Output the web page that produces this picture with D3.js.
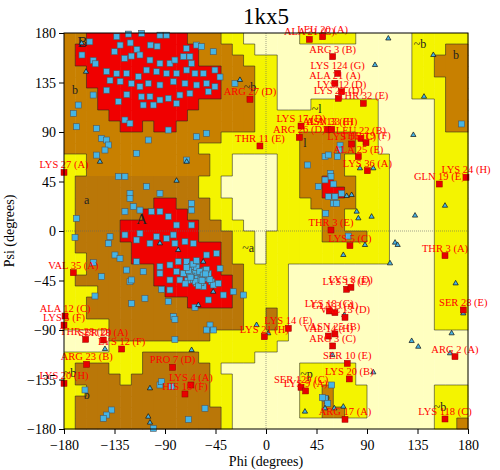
<!DOCTYPE html>
<html>
<head>
<meta charset="utf-8">
<script src="https://cdn.jsdelivr.net/npm/d3@7"></script>
<style>
body { margin: 0; background: #fff; }
text { font-family: "Liberation Serif", "DejaVu Serif", serif; }
</style>
</head>
<body>
<script>
// region map, 10 degree cells, rows psi 180 -> -180, columns phi -180 -> 180
// R core, B allowed, D allowed (darker), Y generous, W disallowed
var regionRows = [
  "BBRRRRRRRRRBBBYYWWWWWYYYYYWWWWWYYYYY",
  "BRRRRRRRRRRRBBBYYWWWWWWWWWWWWWWYYYBB",
  "BRRRRRRRRRRRBBBBYYYWWWWWWWWWWWWYYBBB",
  "BBRRRRRRRRRRRRBBBYYWWWWWWWWWWWWYYBBB",
  "BBRRRRRRRRRRRRBBBYYWWWWWWWWWWWWYYYBB",
  "BBBRRRRRRRRRRRBBBYYWWWWWWWWWWWWYYYBB",
  "BBBRRRRRRRRRBBBBBYYWWWYYYYYYWWWWWYBB",
  "BBBBRRRRRRRBBBBBBYYYYYYYYYYYWWWWWYBB",
  "BBBBBRRBRRBBBBBBBYYYYYYYYYYYWWWWWYBB",
  "BBBBBBBBBBBBBBYYYYYYYBBBBBYYWWWWWYYY",
  "BBBBBBBBBBBBYYYYYYYYYBBBBBYYWWWWWYYY",
  "YYBBBBBBBBBBBYYWWWWYYBBBBYYYYWWWWYYY",
  "YYBBBBBBBBBBBYYWWWWYYBBBBYYYYWWWWYYY",
  "YDDDDDDDDDDDYYWWWWWYYBBRBBYYYWWWWYYY",
  "YDDDDDDDDDDDYYWWWWWYYBBRRBYYYWWWWYYY",
  "YDDDDDDDRRDDDYYWWWWYYYBBBBYYYWWWWYYY",
  "YDDDDDDRRRRDDYYWWWWYYYYBBYYYYWWWWYYY",
  "YDDDDRRRRRRRDDYYWWWYYYYBBYYYYWWWWYYY",
  "YDDDDRRRRRRRDDDYYWYYYYYBBBBYYWWWWYYY",
  "YDDDDDRRRRRRRRDYYWYYYYYYYYYYYWWWWYYY",
  "YYDDDDRRRRRRRRDYYWYYYYYYYYYYYWWWWYYY",
  "YYDDDDDDRRRRRRDDYYYYWWWWWWWWWWWWWYYY",
  "YDDDDDDDRRRRRRRDYYYYWWWWWWWWWWWWWYYY",
  "YYYDDDDDDRRRRRRDYYYYWWWWWWWWWWWWWYYY",
  "YYDDDDDDDDDRRRRDYYYYWWWWWWWWWWWWWYYY",
  "YYDDDDDDDDDDDDDDYYDYWWWWWWWWWWWWWYYY",
  "YYYYDDDDDDDDDDDDYYDYWWWWWWWWWWWWWYYY",
  "WWWWDDDDDDDDDYYYYYYYWWWWWWWWWWWWWWWW",
  "WWWWYYYYYYYYYYYYYYYWWWWWWWWWWWWWWWWW",
  "YYYYYYYDDDDDYYYYYWWWWWWWWWWWWWWWWWWW",
  "YDDDYYYDDDDDDYWWWWWWWYYYYYWWWWWWWWWW",
  "YDDDDYDDDDDDDYYWWWWWWYYYYYWWWWWWWWWW",
  "YYDDDDDDDDDDDYYWWWWWWYYBYYYWWWWWWYYY",
  "YDDDDDDDDDDDDYYWWWWWWYYBYYYWWWWWWYYY",
  "YDDDDDDDDDDDDDYWWWWWWYYBBYYWWWWWWYYY",
  "YDDDDDDDDDDDDDYWWWWWWWWWWWWWWWWWWYYB"
];
var regionColors = { R: "#f00000", B: "#c88000", D: "#ba7708", Y: "#f4f400", W: "#ffffc0" };

// general residues (phi, psi)
var generalPhi = [-122.7,-110.8,-94.5,-88.6,-133,-157,-164,-154,-152,-130,-121,-115,-103,-97,-71,-62,-57.4,-47,-135,-126,-120,-112.3,-103.4,-94.5,-85.6,-81.2,-73.7,-67.8,-66.3,-142,-133,-124.2,-113.8,-106.4,-97.5,-88.6,-79.7,-70.7,-63.3,-55.9,-45.5,-41,-139,-130,-120,-112.3,-104.9,-94.5,-82.6,-72.2,-61.8,-52.9,-45.5,-27.7,-154,-142,-124,-111,-103.4,-94.5,-87.1,-76.7,-67.8,-51.4,-131.6,-109.4,-100.4,-79.7,-167.3,-171.7,-125.7,-121.2,-151,-168.8,-104.9,-87.1,-61.8,-53,-146.5,-142,-140.5,-143.5,-151,-115.3,-70.7,-131.6,-125.7,-106.4,-94.5,-121.2,-121.2,-118.3,-125.7,-112.3,-102,-94.5,-87.1,-66.3,-66.3,-168.8,-79.7,-66.3,
  -170.2,-139,-140.5,-125.7,-115.3,-112.3,-103.4,-97.5,-88.6,-82.6,-81.2,-72.2,-64.8,-134.6,-130.1,-153.9,-115.3,-94.5,-85.6,-78.2,-70.7,-61.8,-52.9,-44,-41,-79.7,-73.7,-69.2,-66.3,-64.8,-60.3,-57.4,-54.4,-51.4,-48.5,-47,-42.5,-55.9,-61.8,-67.8,-76.7,-85.6,-94.5,-109.4,-124.2,-121.2,-119.7,-146.5,-93,-85.6,-107.9,-119.7,-87.1,-152.4,-63.3,-51.4,-38,-20.2,-29.2,-82.6,-81.2,-49.9,-52.9,-46.9,-81.2,-94.5,-93,-84,-161.3,-137.6,-142,-145,-69.2,-54.4,-100.4,
  -60,-57,-64,-70,-62,-58,-66,-55,-50,-68,-72,-61,-53,-59,-63,-67,-56,-65,-60,-69,-58,-62,-54,-71,-57,
  66,66,52.6,55.5,63.8,37.1,57.3,57.9,52.6,60,46.6,55.5,61.5,60,63,67.4,53.2,174.3,73.3,58.5,52.6,50.2,55];
var generalPsi = [179,179.7,178,178,176.6,172,160,155,152,169,171,165,169,168,166,169,167.6,163,163,157,159,160,155.4,152.4,152.4,155.4,158.5,158.5,152.4,145,143,143.3,140.3,146.3,144.8,143.3,143.3,146.3,143.3,143.3,146.3,140,137,136,134,131.2,134.2,132.7,135.7,134.2,132.7,134.2,131.2,134.2,123.6,128,124,122,122.1,119.1,120.6,123.6,125.1,126.6,117.6,114.5,114.5,116,114.5,107,100.9,97.9,93.3,94.8,82.7,91.8,85.7,88.8,84.2,82.7,78.2,73.6,69,70.6,64.5,49.4,49.4,40.3,34.2,34.2,29.7,22.1,17.6,19,17.6,17.6,13,25.1,19,11.5,5.4,5.4,
  -5.8,-5.2,-11.2,-3.6,-8.2,-2.1,-11.2,-5.2,-6.7,-3.6,-11.2,-9.7,-11.2,-21.8,-24.9,-28.8,-27.9,-32.4,-30.9,-27.9,-27.9,-29.4,-21.8,-20.3,-34,-37,-38.5,-35.5,-32.4,-40,-41.5,-37,-43,-38.5,-46.1,-49.1,-47.6,-50.6,-47.6,-44.5,-44.5,-44.5,-38.5,-37,-35.5,-46.1,-44.5,-41.5,-53,-53.6,-61.2,-65.8,-64.2,-59.1,-69.4,-62.7,-58.2,-58.2,-55.2,-77.9,-80.3,-85.5,-90,-90,-98.5,-140,-137,-141.5,-144.5,-162.7,-167.3,-170.3,-171.2,-161.2,-179.4,
  -40,-42,-38,-45,-33,-47,-41,-36,-44,-39,-48,-43,-35,-37,-46,-42,-40,-30,-50,-36,-44,-27,-39,-33,-45,
  78,73.6,67.6,69.1,67.6,60,52.4,49.4,46.4,42.7,40.3,31.2,31.2,25.1,25.1,34.2,16,97.3,-4.6,-140,-152.1,-151.5,-156.7];

// glycines
var glyPhi = [-164.3,-160.4,-23.2,-148,-70.7,-79.7,-143.5,-103.4,-104.9,-103.4,-66.3,-8.4,2,-94.5,-55.9,-60.3,-78.2,-47,
  109,97.1,149.1,140.8,131.3,83.7,95.6,76.3,71.9,159.5,132.8,80.8,82.3,94.1,115,117.3,88.2,68.9,110.5,169,175.8,165.4,129.8,135.7,164,59.1,69.8,95.6,34.7,52.6,68.9,60.9];
var glyPsi = [170.6,144.8,137.3,63,63,45.7,-107.3,-143,-168.8,-174.2,-108.2,-85.5,-93,-11.2,-27.9,-67.3,-17.3,-55.2,
  175,150.9,160,122.1,87.3,57,57,32.7,31.8,23,14,17.6,11.5,13,-10.6,-12.7,-12.7,-21.8,-29.4,-47.6,-74.9,-93,-100,-105.2,-111.2,-112.7,-76.4,-128.5,-164.2,-161.2,-159.7,-161.2];

// outliers with labels
var outlierLabels = ["ALA 21 (C)","LEU 20 (A)","ARG 3 (B)","LYS 124 (G)","ALA 21 (A)","LYS 12 (D)","LYS 22 (D)","THR 32 (E)","ARG 27 (D)","LYS 17 (D)","ALA 13 (E)","ASN 33 (H)","ARG 26 (D)","LEU 22 (B)","LYS 16 (C)","THR 19 (F)","THR 11 (E)","ALA 25 (E)","LYS 36 (A)","LYS 27 (A)","GLN 19 (E)","LYS 24 (H)","THR 3 (E)",
  "LYS 5 (C)","THR 3 (A)","VAL 35 (A)","LYS 13 (E)","LYS 8 (D)","SER 28 (E)","ALA 12 (C)","LYS 5 (F)","LYS 18 (G)","GLN 3 (A)","VAL 13 (D)","LYS 14 (E)","LYS 21 (H)","ASN 25 (B)","VAL 14 (H)","ARG 3 (C)","THR 28 (D)","SER 28 (A)","LYS 12 (F)","ARG 2 (A)","ARG 23 (B)","PRO 7 (D)","SER 10 (E)","LYS 20 (B)","LYS 4 (A)","HIS 18 (F)","LYS 20 (H)","SER 129 (C)","LYS 9 (A)","ARG 17 (A)","LYS 118 (C)"];
var outlierPhi = [38.6,50.5,59.4,63.8,61.4,67.4,64.4,86.7,-14.3,31.2,54.9,58.5,29.7,84.6,76.3,89.1,-5.4,82.2,90.3,-180,154.4,178.2,57.9,
  74.8,159.5,-171.7,71.8,75.7,175.8,-179.1,-180,56.4,61.4,70.4,19.9,-1.5,61.4,55.5,59.4,-160.7,-145,-128.6,168.4,-159.8,-83.2,72.4,74.2,-66.9,-72.2,-180,31.2,35.3,70.4,159.5];
var outlierPsi = [174.2,176.6,158.5,143.3,134.2,126.6,120.6,116,119.7,95.4,92.4,92.4,85.1,84.2,79.1,80.3,77.3,67.6,54.8,53.3,42.7,48.8,0.9,
  -13.3,-22.4,-37.9,-53,-51.2,-71.8,-77.3,-85.5,-72.7,-74.2,-78.5,-88.5,-96.1,-93.6,-95.5,-104.5,-98.5,-99.1,-107.3,-114.2,-121.2,-123.9,-120.3,-134.5,-140,-148.2,-138.5,-142.1,-145.4,-171.2,-170.9];

// region letters
var regionLetters = ["A","B","b","a","~b","~b","b","~l","l","~a","~b","b","~p","p","~b"];
var letterPhi = [-110.8,-163.4,-170.2,-159.8,-14.3,137.2,169.3,45.1,34.7,-15.8,-174.7,-159.8,36.2,54,155];
var letterPsi = [10,171.2,128.2,28.2,131.2,170,160,110.6,80.3,-15.8,-129.4,-149.1,-130,-150.6,-159.7];

var ticks = [-180,-135,-90,-45,0,45,90,135,180];

var margin = {top: 33, right: 32, bottom: 41, left: 64},
    width = 500 - margin.left - margin.right,
    height = 470 - margin.top - margin.bottom;

var x = d3.scaleLinear().domain([-180, 180]).range([0, width]);
var y = d3.scaleLinear().domain([-180, 180]).range([height, 0]);

var svg = d3.select("body").append("svg")
    .attr("width", 500)
    .attr("height", 470)
  .append("g")
    .attr("transform", "translate(" + margin.left + "," + margin.top + ")");

// region cells
var cells = [];
regionRows.forEach(function(row, i) {
  for (var j = 0; j < row.length; j++) {
    cells.push({phi: -180 + 10 * j, psi: 180 - 10 * i, code: row[j], i: i, j: j});
  }
});
svg.selectAll(".cell")
    .data(cells)
  .enter().append("rect")
    .attr("class", "cell")
    .attr("x", function(d) { return x(d.phi); })
    .attr("y", function(d) { return y(d.psi); })
    .attr("width", x(10) - x(0) + 0.5)
    .attr("height", y(0) - y(10) + 0.5)
    .attr("fill", function(d) { return regionColors[d.code]; });

// dark step edges between regions
var rank = {R: 4, B: 3, D: 3, Y: 2, W: 1};
var edges = [];
cells.forEach(function(d) {
  if (d.j < 35) {
    var r = regionRows[d.i][d.j + 1];
    if (rank[r] != rank[d.code]) edges.push([d.phi + 10, d.psi, d.phi + 10, d.psi - 10]);
  }
  if (d.i < 35) {
    var b = regionRows[d.i + 1][d.j];
    if (rank[b] != rank[d.code]) edges.push([d.phi, d.psi - 10, d.phi + 10, d.psi - 10]);
  }
});
svg.selectAll(".edge")
    .data(edges)
  .enter().append("line")
    .attr("x1", function(d) { return x(d[0]); })
    .attr("y1", function(d) { return y(d[1]); })
    .attr("x2", function(d) { return x(d[2]); })
    .attr("y2", function(d) { return y(d[3]); })
    .attr("stroke", "#222")
    .attr("stroke-opacity", 0.55)
    .attr("stroke-width", 1);

// zero lines
svg.append("line").attr("x1", x(0)).attr("x2", x(0)).attr("y1", 0).attr("y2", height)
    .attr("stroke", "#666").attr("stroke-width", 0.6).attr("stroke-dasharray", "1,1");
svg.append("line").attr("x1", 0).attr("x2", width).attr("y1", y(0)).attr("y2", y(0))
    .attr("stroke", "#666").attr("stroke-width", 0.6).attr("stroke-dasharray", "1,1");

svg.selectAll(".rl")
    .data(regionLetters)
  .enter().append("text")
    .attr("x", function(d, i) { return x(letterPhi[i]); })
    .attr("y", function(d, i) { return y(letterPsi[i]) + 4; })
    .attr("text-anchor", "middle")
    .style("font-size", function(d) { return d == "A" || d == "B" ? "15px" : "12px"; })
    .attr("fill", "#222")
    .text(function(d) { return d; });

// general residues
svg.selectAll(".dot")
    .data(generalPhi)
  .enter().append("rect")
    .attr("x", function(d) { return x(d) - 3; })
    .attr("y", function(d, i) { return y(generalPsi[i]) - 3; })
    .attr("width", 6).attr("height", 6)
    .attr("fill", "#45b4e6")
    .attr("stroke", "#555").attr("stroke-width", 0.6);

// glycines
var tri = d3.symbol().type(d3.symbolTriangle).size(12);
svg.selectAll(".gly")
    .data(glyPhi)
  .enter().append("path")
    .attr("d", tri)
    .attr("transform", function(d, i) { return "translate(" + x(d) + "," + y(glyPsi[i]) + ")"; })
    .attr("fill", "#45b4e6")
    .attr("stroke", "#111").attr("stroke-width", 0.7);

// outliers
svg.selectAll(".out")
    .data(outlierPhi)
  .enter().append("rect")
    .attr("x", function(d) { return x(d) - 3; })
    .attr("y", function(d, i) { return y(outlierPsi[i]) - 3; })
    .attr("width", 6).attr("height", 6)
    .attr("fill", "#e80000")
    .attr("stroke", "#900").attr("stroke-width", 0.5);
svg.selectAll(".outl")
    .data(outlierLabels)
  .enter().append("text")
    .attr("x", function(d, i) { return x(outlierPhi[i]); })
    .attr("y", function(d, i) { return y(outlierPsi[i]) - 4; })
    .attr("text-anchor", "middle")
    .style("font-size", "10.5px")
    .attr("fill", "#ff0000")
    .text(function(d) { return d; });

// frame and axes
svg.append("rect").attr("width", width).attr("height", height)
    .attr("fill", "none").attr("stroke", "#000").attr("stroke-width", 1);

svg.append("g")
    .attr("transform", "translate(0," + height + ")")
    .call(d3.axisBottom(x).tickValues(ticks).tickSize(5).tickSizeOuter(0))
    .call(function(g) { g.select(".domain").remove(); })
    .selectAll("text").style("font-size", "14px").style("font-family", "Liberation Serif").attr("dy", "0.9em");

svg.append("g")
    .call(d3.axisLeft(y).tickValues(ticks).tickSize(5).tickSizeOuter(0))
    .call(function(g) { g.select(".domain").remove(); })
    .selectAll("text").style("font-size", "14px").style("font-family", "Liberation Serif").attr("dy", "0.35em");

svg.append("text")
    .attr("x", width / 2).attr("y", height + 37)
    .attr("text-anchor", "middle").style("font-size", "14px")
    .text("Phi (degrees)");
svg.append("text")
    .attr("transform", "rotate(-90)")
    .attr("x", -height / 2).attr("y", -50)
    .attr("text-anchor", "middle").style("font-size", "14px")
    .text("Psi (degrees)");

svg.append("text")
    .attr("x", width / 2).attr("y", -9)
    .attr("text-anchor", "middle").style("font-size", "23px")
    .text("1kx5");
</script>
</body>
</html>
